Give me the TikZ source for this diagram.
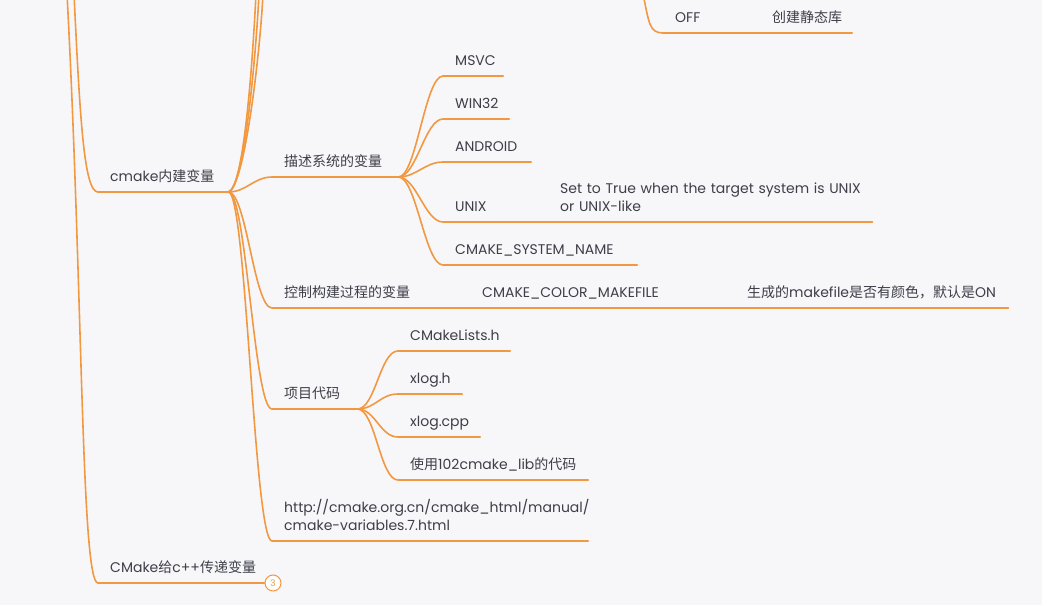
\documentclass[tikz,border=0pt]{standalone}
\usepackage{fontspec}
\setmainfont{Poppins}
\newfontfamily\cjk{Noto Sans CJK SC}
\newcommand\zh[1]{{\cjk #1}}
\definecolor{branch}{RGB}{242,152,64}
\definecolor{ink}{RGB}{62,62,72}
\definecolor{paper}{RGB}{247,247,250}
\begin{document}
\begin{tikzpicture}
	  [
	    x                       = 1pt,
	    y                       = -1pt,
	    every node/.style       = {font=\fontsize{14}{18}\selectfont, text=ink},
	    topic/.style            = {anchor=south west, inner xsep=12pt, inner ysep=10pt,
	                               text depth=0pt, align=left},
	    twoline/.style          = {text depth=18pt},
	    link/.style             = {draw=branch, line width=1.6pt, line cap=round},
	    badge/.style            = {circle, draw=branch, fill=white, line width=1pt,
	                               inner sep=0pt, minimum size=16pt, text=branch,
	                               font=\fontsize{9}{9}\selectfont}
	  ]
		\fill[paper] (0,0) rectangle (1042,605);
		\useasboundingbox (0,0) rectangle (1042,605);
		\clip (0,0) rectangle (1042,605);

		% ends of the lines that leave the picture
		\coordinate (root1) at (67,-6);
		\coordinate (root2) at (74,-6);
		\coordinate (up1) at (256,-6);
		\coordinate (up2) at (259,-6);
		\coordinate (up3) at (263,-6);
		\coordinate (upoff) at (643,-6);

		% first level
		\node[topic, text width=106pt] (cm) at (98,192) {cmake\zh{内建变量}};
		\node[topic, text width=143pt] (cp) at (98,583) {CMake\zh{给}c++\zh{传递变量}};
		\node[badge] (cnt) at (273,583) {3};

		% second level
		\node[topic, text width=102pt] (desc) at (272,177) {\zh{描述系统的变量}};
		\node[topic, text width=174pt] (ctrl) at (272,308) {\zh{控制构建过程的变量}};
		\node[topic, text width=61pt] (proj) at (272,409) {\zh{项目代码}};
		\node[topic, twoline, text width=292pt] (url) at (272,541)
			{http://cmake.org.cn/cmake\_html/manual/\\cmake-variables.7.html};

		% third level
		\node[topic, text width=36pt] (msvc) at (443,76) {MSVC};
		\node[topic, text width=42pt] (win) at (443,119) {WIN32};
		\node[topic, text width=64pt] (andr) at (443,162) {ANDROID};
		\node[topic, text width=81pt] (unix) at (443,222) {UNIX};
		\node[topic, twoline, text width=300pt] (note) at (548,222)
			{\mbox{Set to True when the target system is UNIX}\\\mbox{or UNIX-like}};
		\node[topic, text width=170pt] (sysname) at (443,265) {CMAKE\_SYSTEM\_NAME};
		\node[topic, text width=241pt] (colmk) at (470,308) {CMAKE\_COLOR\_MAKEFILE};
		\node[topic, text width=249pt] (coldesc) at (735,308) {\zh{生成的}makefile\zh{是否有颜色，默认是}ON};
		\node[topic, text width=88pt] (cml) at (398,351) {CMakeLists.h};
		\node[topic, text width=40pt] (xh) at (398,394) {xlog.h};
		\node[topic, text width=58pt] (xcpp) at (398,437) {xlog.cpp};
		\node[topic, text width=166pt] (uselib) at (398,480) {\zh{使用}102cmake\_lib\zh{的代码}};
		\node[topic, text width=73pt] (off) at (663,33) {OFF};
		\node[topic, text width=68pt] (lib) at (760,33) {\zh{创建静态库}};

		% connectors
		\draw[link] (root2) .. controls +(6,125) and +(-14,0) .. (cm.south west) -- (cm.south east);
		\draw[link] (root1) .. controls +(16,300) and +(-17,0) .. (cp.south west) -- (cnt.west);
		\foreach \u in {up1,up2,up3}
			\draw[link] (cm.south east) .. controls +(16,-4) and +(-3,60) .. (\u);
		\foreach \t in {desc,ctrl,proj,url}
			\draw[link] (cm.south east) .. controls +(18,0) and +(-18,0) .. (\t.south west) -- (\t.south east);
		\foreach \t in {msvc,win,andr,unix,sysname}
			\draw[link] (desc.south east) .. controls +(18,0) and +(-18,0) .. (\t.south west) -- (\t.south east);
		\foreach \t in {cml,xh,xcpp,uselib}
			\draw[link] (proj.south east) .. controls +(18,0) and +(-18,0) .. (\t.south west) -- (\t.south east);
		\draw[link] (unix.south east) -- (note.south east);
		\draw[link] (ctrl.south east) -- (colmk.south east) -- (coldesc.south east);
		\draw[link] (upoff) .. controls +(6,28) and +(-14,0) .. (off.south west) -- (off.south east) -- (lib.south east);
\end{tikzpicture}
\end{document}
